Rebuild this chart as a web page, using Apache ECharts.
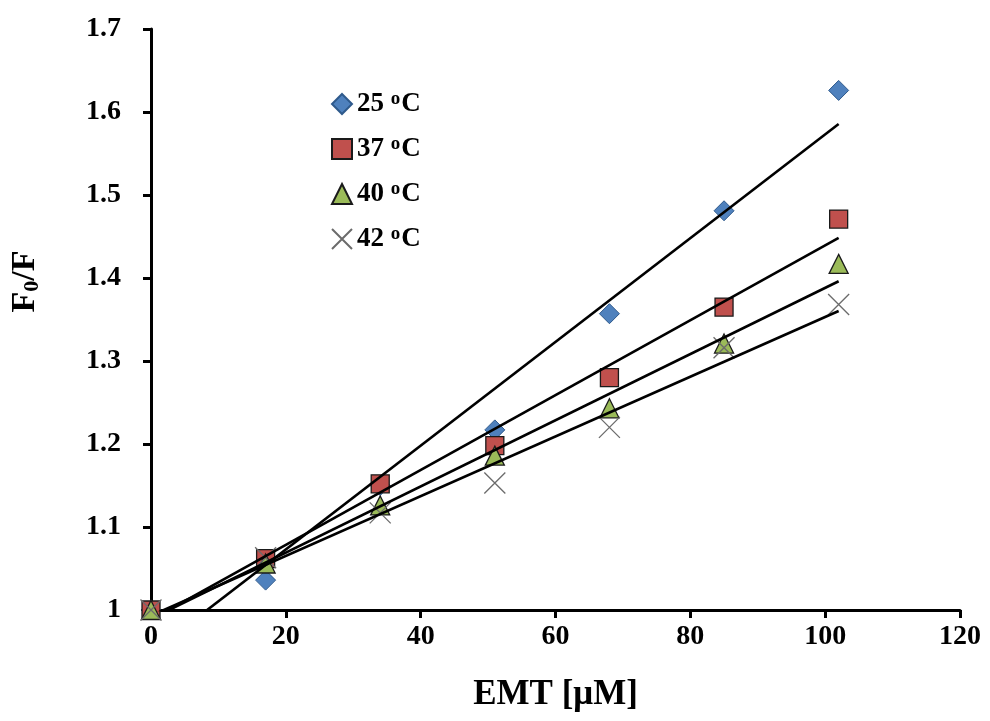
<!DOCTYPE html>
<html>
<head>
<meta charset="utf-8">
<script src="https://cdn.jsdelivr.net/npm/echarts@6/dist/echarts.min.js"></script>
<style>html,body{margin:0;padding:0;background:#fff}#c{width:990px;height:721px}</style>
</head>
<body>
<div id="c"></div>
<script>
// ---- data ----
const xValues = [0, 17, 34, 51, 68, 85, 102];
const temps = ['25', '37', '40', '42'];
const y25 = [1.000, 1.036, 1.150, 1.217, 1.357, 1.481, 1.626];
const y37 = [1.000, 1.062, 1.152, 1.198, 1.280, 1.365, 1.471];
const y40 = [1.000, 1.056, 1.126, 1.186, 1.243, 1.321, 1.417];
const y42 = [1.000, 1.063, 1.117, 1.153, 1.220, 1.316, 1.368];
const xTicks = [0, 20, 40, 60, 80, 100, 120];
const yTicks = [1, 1.1, 1.2, 1.3, 1.4, 1.5, 1.6, 1.7];

const FONT = 'Liberation Serif';
const allY = [y25, y37, y40, y42];

// least-squares trendline through each series
function fit(xs, ys) {
  const n = xs.length;
  const mx = xs.reduce((a, b) => a + b, 0) / n;
  const my = ys.reduce((a, b) => a + b, 0) / n;
  let sxy = 0, sxx = 0;
  for (let i = 0; i < n; i++) { sxy += (xs[i] - mx) * (ys[i] - my); sxx += (xs[i] - mx) * (xs[i] - mx); }
  const m = sxy / sxx;
  return { m: m, b: my - m * mx };
}

const styles = [
  { symbol: 'diamond', size: 20, color: '#4F81BD', border: '#2F5A8C', bw: 1 },
  { symbol: 'rect', size: 18, color: '#C0504D', border: '#1a1a1a', bw: 1.3 },
  { symbol: 'triangle', size: 19, color: '#9BBB59', border: '#1a1a1a', bw: 1.3 },
  { symbol: 'path://M0,0L10,10M10,0L0,10', size: 21, color: 'rgba(0,0,0,0)', border: '#6b6b6b', bw: 1.3 }
];

const series = [];
temps.forEach((t, i) => {
  const s = styles[i];
  series.push({
    name: t,
    type: 'scatter',
    data: xValues.map((x, k) => [x, allY[i][k]]),
    symbol: s.symbol,
    symbolSize: s.size,
    itemStyle: { color: s.color, borderColor: s.border, borderWidth: s.bw, opacity: 1 },
    z: 2,
    clip: false
  });
});
temps.forEach((t, i) => {
  const f = fit(xValues, allY[i]);
  const x0 = xValues[0], x1 = xValues[xValues.length - 1];
  series.push({
    name: 'trend' + t,
    type: 'line',
    data: [[x0, f.b + f.m * x0], [x1, f.b + f.m * x1]],
    showSymbol: false,
    symbol: 'none',
    lineStyle: { color: '#000', width: 2.6 },
    z: 3,
    clip: true,
    silent: true
  });
});

const chart = echarts.init(document.getElementById('c'), null, { renderer: 'canvas' });
chart.setOption({
  animation: false,
  backgroundColor: '#fff',
  grid: { left: 150, right: 30, top: 29, bottom: 111, containLabel: false },
  legend: {
    data: temps,
    orient: 'vertical',
    left: 326,
    top: 85,
    itemWidth: 20,
    itemHeight: 20,
    itemGap: 17,
    formatter: function (n) { return '{n|' + n + ' }{s|o}{n|C}'; },
    textStyle: {
      fontFamily: FONT, fontWeight: 'bold', fontSize: 27, color: '#000',
      rich: {
        n: { fontFamily: FONT, fontWeight: 'bold', fontSize: 27, color: '#000', lineHeight: 27 },
        s: { fontFamily: FONT, fontWeight: 'bold', fontSize: 19, color: '#000', lineHeight: 27, padding: [0, 1, 9, 0] }
      }
    }
  },
  xAxis: {
    type: 'value',
    min: xTicks[0], max: xTicks[xTicks.length - 1], interval: xTicks[1] - xTicks[0],
    splitLine: { show: false },
    axisLine: { lineStyle: { color: '#000', width: 3 } },
    axisTick: { show: true, inside: false, length: 8, lineStyle: { color: '#000', width: 3 } },
    axisLabel: { fontFamily: FONT, fontWeight: 'bold', fontSize: 28, color: '#000', margin: 13 },
    name: 'EMT [μM]',
    nameLocation: 'middle',
    nameGap: 67,
    nameTextStyle: { fontFamily: FONT, fontWeight: 'bold', fontSize: 35, color: '#000' }
  },
  yAxis: {
    type: 'value',
    min: yTicks[0], max: yTicks[yTicks.length - 1], interval: 0.1,
    splitLine: { show: false },
    axisLine: { lineStyle: { color: '#000', width: 3 } },
    axisTick: { show: true, inside: false, length: 8, lineStyle: { color: '#000', width: 3 } },
    axisLabel: { fontFamily: FONT, fontWeight: 'bold', fontSize: 28, color: '#000', margin: 30 },
    name: 'F{sub|0}/F',
    nameLocation: 'middle',
    nameGap: 108,
    nameTextStyle: {
      fontFamily: FONT, fontWeight: 'bold', fontSize: 34, color: '#000',
      padding: [0, 0, 0, 76],
      rich: {
        sub: { fontFamily: FONT, fontWeight: 'bold', fontSize: 22, color: '#000', padding: [14, 0, 0, 0] }
      }
    }
  },
  series: series
});
</script>
</body>
</html>
